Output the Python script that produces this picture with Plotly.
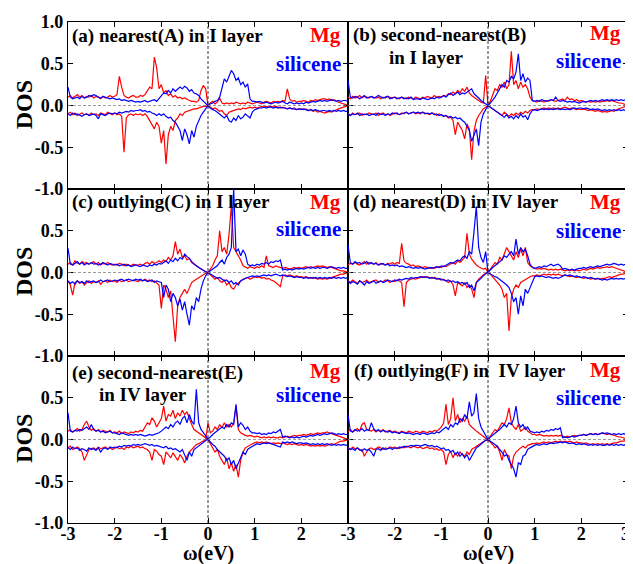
import numpy as np
import plotly.graph_objects as go
from plotly.subplots import make_subplots

# energy grid (eV), 0.05 eV spacing
OMEGA = np.round(np.linspace(-3.0, 3.0, 121), 2)

# ---------------- panel (a) ----------------
MG_UP_A = [0.10,0.12,0.09,0.11,0.13,0.10,0.12,0.09,0.11,0.10,
           0.12,0.09,0.11,0.10,0.08,0.11,0.09,0.10,0.12,0.10,
           0.11,0.13,0.35,0.22,0.12,0.10,0.09,0.11,0.12,0.10,
           0.10,0.12,0.11,0.13,0.18,0.22,0.20,0.58,0.45,0.20,
           0.25,0.15,0.18,0.12,0.14,0.10,0.12,0.09,0.10,0.08,
           0.09,0.07,0.06,0.05,0.05,0.04,0.06,0.18,0.24,0.20,
           0.00,-0.02,-0.04,-0.03,-0.05,-0.07,-0.06,-0.10,-0.12,-0.08,
           -0.07,-0.06,-0.05,-0.04,-0.05,-0.03,-0.04,-0.03,-0.02,-0.03,
           -0.02,-0.03,-0.02,-0.01,-0.02,-0.01,-0.02,-0.01,-0.02,-0.01,
           -0.02,-0.03,-0.02,-0.03,-0.04,-0.03,-0.04,-0.03,-0.05,-0.04,
           -0.04,-0.05,-0.04,-0.06,-0.05,-0.07,-0.06,-0.08,-0.07,-0.08,
           -0.09,-0.08,-0.07,-0.08,-0.06,-0.05,-0.04,-0.03,-0.02,-0.01,
           0.00]
MG_DN_A = [-0.10,-0.08,-0.11,-0.09,-0.12,-0.10,-0.09,-0.11,-0.10,-0.12,
           -0.09,-0.11,-0.10,-0.12,-0.09,-0.10,-0.11,-0.08,-0.10,-0.11,
           -0.09,-0.11,-0.10,-0.13,-0.56,-0.15,-0.11,-0.10,-0.12,-0.10,
           -0.11,-0.10,-0.12,-0.10,-0.13,-0.18,-0.22,-0.28,-0.20,-0.25,
           -0.45,-0.30,-0.70,-0.35,-0.25,-0.30,-0.18,-0.15,-0.10,-0.12,
           -0.08,-0.07,-0.06,-0.05,-0.04,-0.04,-0.03,-0.02,-0.01,-0.01,
           0.00,0.03,0.05,0.02,0.04,0.09,0.03,0.02,0.03,0.02,
           0.03,0.02,0.04,0.03,0.02,0.03,0.02,0.04,0.03,0.02,
           0.03,0.04,0.03,0.02,0.04,0.05,0.04,0.03,0.05,0.04,
           0.05,0.04,0.06,0.05,0.20,0.08,0.05,0.06,0.04,0.05,
           0.05,0.06,0.05,0.04,0.06,0.05,0.07,0.06,0.07,0.08,
           0.08,0.07,0.08,0.06,0.07,0.05,0.04,0.03,0.02,0.01,
           0.00]
SI_UP_A = [0.22,0.10,0.08,0.09,0.10,0.08,0.11,0.09,0.10,0.12,
           0.11,0.13,0.12,0.10,0.09,0.11,0.10,0.09,0.08,0.09,
           0.08,0.07,0.08,0.06,0.07,0.06,0.05,0.06,0.05,0.04,
           0.05,0.04,0.05,0.06,0.04,0.05,0.06,0.07,0.05,0.08,
           0.12,0.15,0.14,0.18,0.15,0.20,0.17,0.19,0.22,0.20,
           0.23,0.21,0.17,0.19,0.15,0.14,0.12,0.08,0.05,0.03,
           0.00,-0.03,-0.05,-0.06,-0.08,-0.10,-0.12,-0.15,-0.12,-0.18,
           -0.20,-0.15,-0.18,-0.12,-0.16,-0.14,-0.10,-0.12,-0.15,-0.08,
           -0.05,-0.04,-0.03,-0.03,-0.02,-0.03,-0.02,-0.02,-0.03,-0.02,
           -0.03,-0.02,-0.03,-0.03,-0.04,-0.03,-0.04,-0.04,-0.05,-0.04,
           -0.05,-0.04,-0.05,-0.06,-0.05,-0.06,-0.05,-0.06,-0.07,-0.06,
           -0.06,-0.07,-0.06,-0.07,-0.06,-0.07,-0.06,-0.07,-0.06,-0.07,
           -0.07]
SI_DN_A = [-0.10,-0.12,-0.09,-0.11,-0.10,-0.12,-0.13,-0.11,-0.10,-0.12,
           -0.11,-0.10,-0.12,-0.16,-0.10,-0.11,-0.12,-0.10,-0.09,-0.10,
           -0.09,-0.10,-0.08,-0.09,-0.08,-0.07,-0.08,-0.06,-0.07,-0.06,
           -0.06,-0.05,-0.07,-0.06,-0.08,-0.07,-0.09,-0.10,-0.12,-0.10,
           -0.12,-0.10,-0.13,-0.15,-0.14,-0.18,-0.20,-0.25,-0.30,-0.42,
           -0.28,-0.35,-0.46,-0.30,-0.38,-0.25,-0.18,-0.12,-0.08,-0.04,
           0.00,0.02,0.03,0.05,0.06,0.10,0.20,0.32,0.28,0.35,
           0.42,0.38,0.30,0.33,0.25,0.28,0.22,0.26,0.08,0.05,
           0.05,0.04,0.05,0.04,0.03,0.04,0.03,0.02,0.03,0.04,
           0.03,0.04,0.05,0.03,0.02,0.04,0.03,0.02,0.03,0.02,
           0.03,0.02,0.04,0.03,0.04,0.05,0.04,0.05,0.06,0.05,
           0.06,0.05,0.06,0.07,0.06,0.05,0.06,0.05,0.06,0.06,
           0.05]

# ---------------- panel (b) ----------------
MG_UP_B = [0.10,0.08,0.11,0.09,0.10,0.12,0.09,0.11,0.10,0.09,
           0.11,0.10,0.09,0.10,0.08,0.10,0.09,0.11,0.10,0.09,
           0.10,0.09,0.08,0.10,0.09,0.08,0.10,0.09,0.08,0.10,
           0.09,0.08,0.10,0.09,0.11,0.10,0.09,0.12,0.10,0.11,
           0.10,0.12,0.11,0.14,0.13,0.16,0.14,0.18,0.15,0.20,
           0.17,0.22,0.15,0.12,0.10,0.07,0.05,0.04,0.03,0.36,
           0.00,-0.02,-0.04,-0.05,-0.08,-0.10,-0.12,-0.08,-0.10,-0.13,
           -0.10,-0.12,-0.09,-0.11,-0.08,-0.10,-0.07,-0.09,-0.06,-0.05,
           -0.05,-0.04,-0.05,-0.04,-0.03,-0.04,-0.03,-0.04,-0.03,-0.04,
           -0.03,-0.04,-0.03,-0.02,-0.03,-0.04,-0.03,-0.04,-0.05,-0.04,
           -0.05,-0.04,-0.05,-0.06,-0.05,-0.06,-0.07,-0.06,-0.07,-0.08,
           -0.07,-0.08,-0.07,-0.06,-0.07,-0.05,-0.04,-0.03,-0.02,-0.01,
           0.00]
MG_DN_B = [-0.10,-0.12,-0.09,-0.11,-0.10,-0.09,-0.12,-0.10,-0.11,-0.09,
           -0.10,-0.11,-0.09,-0.12,-0.10,-0.09,-0.11,-0.10,-0.12,-0.10,
           -0.09,-0.10,-0.11,-0.09,-0.10,-0.08,-0.10,-0.09,-0.08,-0.10,
           -0.09,-0.10,-0.08,-0.09,-0.10,-0.11,-0.09,-0.10,-0.12,-0.10,
           -0.11,-0.13,-0.12,-0.15,-0.14,-0.18,-0.35,-0.20,-0.25,-0.30,
           -0.40,-0.22,-0.28,-0.65,-0.30,-0.18,-0.12,-0.08,-0.04,-0.02,
           0.00,0.05,0.12,0.20,0.18,0.25,0.22,0.28,0.20,0.25,
           0.65,0.25,0.30,0.20,0.28,0.22,0.25,0.20,0.10,0.06,
           0.05,0.04,0.06,0.05,0.04,0.06,0.05,0.07,0.06,0.05,
           0.06,0.07,0.08,0.06,0.10,0.07,0.08,0.06,0.07,0.05,
           0.06,0.05,0.04,0.05,0.04,0.05,0.04,0.05,0.04,0.05,
           0.05,0.06,0.05,0.06,0.05,0.04,0.03,0.03,0.02,0.01,
           0.00]
SI_UP_B = [0.30,0.10,0.09,0.11,0.10,0.08,0.10,0.12,0.09,0.10,
           0.11,0.09,0.10,0.12,0.10,0.09,0.10,0.11,0.08,0.09,
           0.10,0.08,0.09,0.10,0.08,0.09,0.08,0.10,0.07,0.08,
           0.08,0.07,0.09,0.08,0.07,0.08,0.09,0.08,0.10,0.09,
           0.10,0.12,0.10,0.13,0.15,0.12,0.14,0.16,0.13,0.15,
           0.14,0.16,0.18,0.20,0.14,0.12,0.09,0.06,0.04,0.02,
           0.00,-0.02,-0.04,-0.06,-0.08,-0.10,-0.12,-0.14,-0.11,-0.15,
           -0.13,-0.16,-0.12,-0.15,-0.10,-0.14,-0.12,-0.17,-0.10,-0.06,
           -0.05,-0.06,-0.05,-0.04,-0.05,-0.04,-0.05,-0.04,-0.05,-0.04,
           -0.04,-0.05,-0.04,-0.05,-0.04,-0.05,-0.04,-0.03,-0.04,-0.03,
           -0.03,-0.04,-0.03,-0.04,-0.05,-0.04,-0.05,-0.04,-0.05,-0.06,
           -0.05,-0.06,-0.05,-0.06,-0.05,-0.06,-0.05,-0.06,-0.05,-0.06,
           -0.05]
SI_DN_B = [-0.10,-0.12,-0.10,-0.11,-0.09,-0.12,-0.10,-0.11,-0.10,-0.12,
           -0.11,-0.10,-0.12,-0.09,-0.11,-0.10,-0.12,-0.10,-0.11,-0.09,
           -0.10,-0.09,-0.11,-0.10,-0.09,-0.08,-0.10,-0.09,-0.08,-0.09,
           -0.08,-0.09,-0.08,-0.10,-0.09,-0.10,-0.09,-0.11,-0.10,-0.12,
           -0.11,-0.13,-0.12,-0.14,-0.13,-0.15,-0.14,-0.16,-0.15,-0.18,
           -0.20,-0.25,-0.30,-0.43,-0.35,-0.28,-0.48,-0.20,-0.10,-0.04,
           0.00,0.03,0.06,0.10,0.15,0.20,0.25,0.22,0.30,0.28,
           0.35,0.32,0.40,0.62,0.30,0.38,0.28,0.33,0.30,0.06,
           0.05,0.06,0.05,0.07,0.06,0.05,0.06,0.07,0.06,0.10,
           0.06,0.05,0.06,0.05,0.04,0.05,0.04,0.05,0.04,0.03,
           0.04,0.05,0.04,0.05,0.06,0.05,0.06,0.05,0.06,0.07,
           0.06,0.07,0.06,0.07,0.06,0.07,0.06,0.07,0.06,0.07,
           0.06]

# ---------------- panel (c) ----------------
MG_UP_C = [0.10,0.12,0.09,0.14,0.11,0.10,0.13,0.11,0.12,0.10,
           0.11,0.13,0.10,0.12,0.09,0.11,0.10,0.12,0.10,0.09,
           0.10,0.09,0.11,0.10,0.08,0.10,0.09,0.08,0.10,0.09,
           0.09,0.10,0.08,0.11,0.12,0.10,0.13,0.11,0.12,0.14,
           0.12,0.15,0.13,0.18,0.15,0.20,0.37,0.22,0.28,0.18,
           0.20,0.15,0.17,0.12,0.10,0.08,0.06,0.04,0.02,0.01,
           0.00,-0.03,-0.05,-0.08,-0.06,-0.10,-0.12,-0.09,-0.15,-0.12,
           -0.18,-0.20,-0.15,-0.12,-0.10,-0.08,-0.07,-0.06,-0.08,-0.06,
           -0.05,-0.06,-0.05,-0.07,-0.06,-0.08,-0.07,-0.09,-0.10,-0.12,
           -0.14,-0.17,-0.04,-0.03,-0.04,-0.03,-0.04,-0.05,-0.04,-0.05,
           -0.05,-0.06,-0.05,-0.06,-0.07,-0.06,-0.07,-0.08,-0.07,-0.08,
           -0.07,-0.08,-0.07,-0.06,-0.05,-0.04,-0.03,-0.02,-0.02,-0.01,
           0.00]
MG_DN_C = [-0.10,-0.15,-0.27,-0.12,-0.10,-0.13,-0.11,-0.15,-0.12,-0.10,
           -0.13,-0.11,-0.12,-0.10,-0.14,-0.11,-0.10,-0.12,-0.09,-0.11,
           -0.10,-0.12,-0.09,-0.11,-0.10,-0.09,-0.11,-0.10,-0.09,-0.10,
           -0.11,-0.09,-0.10,-0.08,-0.10,-0.09,-0.11,-0.10,-0.12,-0.15,
           -0.43,-0.15,-0.20,-0.30,-0.22,-0.55,-0.83,-0.40,-0.30,-0.25,
           -0.20,-0.25,-0.18,-0.12,-0.10,-0.08,-0.06,-0.04,-0.02,-0.01,
           0.00,0.04,0.08,0.15,0.20,0.50,0.25,0.30,0.22,0.45,
           0.80,0.30,0.25,0.20,0.15,0.08,0.06,0.05,0.07,0.06,
           0.05,0.07,0.06,0.08,0.06,0.20,0.08,0.07,0.06,0.08,
           0.07,0.06,0.05,0.06,0.05,0.04,0.05,0.06,0.05,0.06,
           0.05,0.06,0.07,0.06,0.07,0.06,0.07,0.08,0.07,0.08,
           0.07,0.06,0.07,0.06,0.05,0.04,0.03,0.02,0.02,0.01,
           0.00]
SI_UP_C = [0.29,0.10,0.09,0.11,0.13,0.10,0.12,0.09,0.11,0.10,
           0.12,0.10,0.11,0.09,0.10,0.12,0.10,0.09,0.11,0.10,
           0.09,0.10,0.08,0.09,0.10,0.08,0.09,0.07,0.08,0.09,
           0.08,0.07,0.09,0.08,0.07,0.09,0.08,0.10,0.09,0.11,
           0.10,0.12,0.14,0.11,0.15,0.13,0.17,0.14,0.18,0.16,
           0.22,0.19,0.17,0.13,0.10,0.08,0.06,0.04,0.02,0.01,
           0.00,-0.02,-0.03,-0.05,-0.07,-0.06,-0.08,-0.10,-0.09,-0.12,
           -0.10,-0.14,-0.12,-0.15,-0.10,-0.08,-0.07,-0.06,-0.05,-0.04,
           -0.05,-0.04,-0.05,-0.04,-0.03,-0.04,-0.03,-0.04,-0.03,-0.02,
           -0.03,-0.04,-0.03,-0.04,-0.05,-0.04,-0.05,-0.06,-0.05,-0.06,
           -0.06,-0.07,-0.06,-0.07,-0.06,-0.07,-0.06,-0.07,-0.06,-0.07,
           -0.06,-0.07,-0.06,-0.07,-0.06,-0.07,-0.06,-0.07,-0.06,-0.07,
           -0.06]
SI_DN_C = [-0.10,-0.13,-0.11,-0.14,-0.10,-0.12,-0.11,-0.13,-0.10,-0.12,
           -0.11,-0.10,-0.12,-0.11,-0.09,-0.11,-0.10,-0.09,-0.11,-0.10,
           -0.09,-0.10,-0.09,-0.08,-0.10,-0.09,-0.08,-0.09,-0.10,-0.08,
           -0.09,-0.08,-0.10,-0.09,-0.11,-0.10,-0.09,-0.12,-0.10,-0.11,
           -0.12,-0.30,-0.15,-0.20,-0.35,-0.25,-0.30,-0.40,-0.32,-0.45,
           -0.35,-0.50,-0.63,-0.40,-0.45,-0.30,-0.35,-0.20,-0.10,-0.04,
           0.00,0.02,0.04,0.06,0.08,0.12,0.15,0.10,0.18,0.22,
           0.30,1.00,0.25,0.28,0.20,0.27,0.22,0.10,0.08,0.09,
           0.08,0.10,0.09,0.11,0.10,0.12,0.10,0.13,0.12,0.14,
           0.13,0.15,0.03,0.04,0.03,0.04,0.03,0.04,0.05,0.04,
           0.05,0.04,0.05,0.06,0.05,0.06,0.05,0.06,0.05,0.06,
           0.06,0.05,0.06,0.07,0.06,0.05,0.06,0.05,0.06,0.05,
           0.05]

# ---------------- panel (d) ----------------
MG_UP_D = [0.09,0.11,0.10,0.12,0.10,0.09,0.11,0.13,0.10,0.12,
           0.11,0.10,0.12,0.09,0.11,0.10,0.09,0.11,0.10,0.12,
           0.10,0.12,0.11,0.35,0.14,0.11,0.10,0.08,0.09,0.07,
           0.08,0.07,0.06,0.07,0.06,0.05,0.06,0.05,0.06,0.07,
           0.06,0.08,0.07,0.09,0.10,0.12,0.10,0.14,0.12,0.15,
           0.18,0.47,0.22,0.16,0.12,0.09,0.07,0.05,0.04,0.05,
           0.00,-0.02,-0.05,-0.08,-0.12,-0.15,-0.20,-0.30,-0.25,-0.70,
           -0.30,-0.20,-0.15,-0.18,-0.12,-0.10,-0.08,-0.06,-0.05,-0.04,
           -0.04,-0.03,-0.04,-0.03,-0.02,-0.03,-0.02,-0.03,-0.02,-0.03,
           -0.02,-0.03,-0.04,-0.03,-0.04,-0.05,-0.04,-0.05,-0.06,-0.05,
           -0.06,-0.07,-0.06,-0.07,-0.08,-0.07,-0.08,-0.07,-0.08,-0.07,
           -0.07,-0.06,-0.05,-0.06,-0.05,-0.04,-0.03,-0.02,-0.02,-0.01,
           0.00]
MG_DN_D = [-0.10,-0.12,-0.09,-0.11,-0.13,-0.10,-0.12,-0.11,-0.09,-0.12,
           -0.11,-0.10,-0.09,-0.12,-0.10,-0.11,-0.09,-0.10,-0.12,-0.10,
           -0.11,-0.09,-0.10,-0.12,-0.41,-0.12,-0.09,-0.08,-0.07,-0.08,
           -0.07,-0.06,-0.05,-0.06,-0.05,-0.06,-0.07,-0.06,-0.07,-0.08,
           -0.09,-0.08,-0.10,-0.12,-0.10,-0.15,-0.28,-0.12,-0.14,-0.16,
           -0.12,-0.18,-0.15,-0.20,-0.30,-0.12,-0.08,-0.05,-0.03,-0.01,
           0.00,0.04,0.08,0.12,0.10,0.18,0.15,0.22,0.30,0.25,
           0.20,0.15,0.25,0.18,0.28,0.20,0.30,0.12,0.08,0.06,
           0.05,0.04,0.05,0.04,0.05,0.04,0.03,0.04,0.03,0.04,
           0.03,0.04,0.03,0.02,0.03,0.02,0.03,0.02,0.03,0.02,
           0.03,0.04,0.03,0.04,0.05,0.04,0.05,0.06,0.05,0.06,
           0.06,0.07,0.06,0.07,0.06,0.05,0.04,0.03,0.02,0.01,
           0.00]
SI_UP_D = [0.33,0.12,0.10,0.13,0.11,0.12,0.10,0.11,0.13,0.10,
           0.12,0.10,0.11,0.09,0.10,0.11,0.09,0.10,0.08,0.09,
           0.08,0.09,0.07,0.08,0.07,0.06,0.07,0.06,0.05,0.06,
           0.05,0.06,0.05,0.04,0.05,0.06,0.05,0.06,0.07,0.06,
           0.08,0.07,0.09,0.10,0.12,0.11,0.13,0.15,0.14,0.18,
           0.20,0.17,0.25,0.22,0.49,0.79,0.30,0.18,0.12,0.25,
           0.00,-0.02,-0.03,-0.05,-0.06,-0.08,-0.10,-0.12,-0.15,-0.18,
           -0.25,-0.35,-0.30,-0.50,-0.28,-0.40,-0.20,-0.25,-0.18,-0.10,
           -0.05,-0.04,-0.05,-0.04,-0.05,-0.06,-0.05,-0.06,-0.07,-0.06,
           -0.07,-0.06,-0.04,-0.03,-0.04,-0.03,-0.04,-0.05,-0.04,-0.05,
           -0.06,-0.05,-0.06,-0.07,-0.06,-0.07,-0.08,-0.07,-0.08,-0.09,
           -0.08,-0.09,-0.08,-0.07,-0.08,-0.07,-0.08,-0.07,-0.08,-0.07,
           -0.07]
SI_DN_D = [-0.10,-0.13,-0.11,-0.12,-0.14,-0.10,-0.12,-0.15,-0.11,-0.13,
           -0.12,-0.10,-0.13,-0.11,-0.10,-0.12,-0.11,-0.09,-0.10,-0.11,
           -0.09,-0.10,-0.08,-0.09,-0.08,-0.07,-0.08,-0.06,-0.07,-0.06,
           -0.06,-0.05,-0.06,-0.05,-0.06,-0.07,-0.06,-0.07,-0.08,-0.07,
           -0.08,-0.09,-0.10,-0.09,-0.11,-0.10,-0.12,-0.11,-0.13,-0.12,
           -0.14,-0.12,-0.18,-0.15,-0.22,-0.12,-0.10,-0.07,-0.04,-0.02,
           0.00,0.03,0.06,0.08,0.10,0.12,0.15,0.20,0.18,0.22,
           0.25,0.20,0.40,0.22,0.30,0.25,0.28,0.20,0.10,0.06,
           0.05,0.06,0.07,0.06,0.08,0.07,0.09,0.10,0.08,0.09,
           0.10,0.08,0.04,0.05,0.04,0.03,0.04,0.03,0.04,0.05,
           0.05,0.06,0.05,0.06,0.07,0.06,0.07,0.08,0.07,0.08,
           0.09,0.10,0.09,0.10,0.11,0.10,0.09,0.10,0.09,0.10,
           0.09]

# ---------------- panel (e) ----------------
MG_UP_E = [0.10,0.12,0.09,0.11,0.13,0.10,0.12,0.18,0.22,0.15,
           0.11,0.13,0.10,0.12,0.09,0.11,0.10,0.09,0.11,0.08,
           0.09,0.08,0.10,0.07,0.09,0.08,0.07,0.09,0.08,0.10,
           0.09,0.11,0.10,0.15,0.20,0.18,0.26,0.22,0.15,0.20,
           0.25,0.40,0.22,0.30,0.28,0.35,0.25,0.32,0.28,0.35,
           0.30,0.33,0.25,0.18,0.12,0.10,0.08,0.06,0.04,0.02,
           0.00,-0.05,-0.10,-0.15,-0.12,-0.20,-0.25,-0.30,-0.22,-0.35,
           -0.28,-0.38,-0.30,-0.45,-0.25,-0.15,-0.10,-0.08,-0.06,-0.05,
           -0.04,-0.03,-0.04,-0.03,-0.04,-0.03,-0.04,-0.05,-0.04,-0.05,
           -0.04,-0.05,-0.04,-0.05,-0.06,-0.05,-0.06,-0.05,-0.06,-0.07,
           -0.06,-0.07,-0.06,-0.07,-0.08,-0.07,-0.08,-0.07,-0.08,-0.07,
           -0.08,-0.07,-0.06,-0.05,-0.06,-0.04,-0.03,-0.02,-0.02,-0.01,
           0.00]
MG_DN_E = [-0.10,-0.08,-0.12,-0.10,-0.09,-0.11,-0.15,-0.25,-0.18,-0.12,
           -0.11,-0.10,-0.12,-0.09,-0.11,-0.10,-0.09,-0.11,-0.10,-0.12,
           -0.10,-0.09,-0.11,-0.10,-0.12,-0.09,-0.10,-0.08,-0.10,-0.09,
           -0.08,-0.10,-0.09,-0.11,-0.12,-0.15,-0.25,-0.12,-0.14,-0.18,
           -0.20,-0.30,-0.15,-0.18,-0.22,-0.16,-0.20,-0.25,-0.18,-0.22,
           -0.28,-0.20,-0.15,-0.12,-0.08,-0.06,-0.05,-0.03,-0.02,0.00,
           0.20,0.08,0.10,0.15,0.12,0.18,0.14,0.20,0.15,0.18,
           0.15,0.20,0.40,0.12,0.08,0.06,0.05,0.04,0.05,0.04,
           0.03,0.04,0.03,0.02,0.03,0.02,0.03,0.02,0.03,0.02,
           0.02,0.03,0.02,0.03,0.04,0.03,0.04,0.05,0.04,0.05,
           0.05,0.06,0.05,0.06,0.07,0.06,0.07,0.08,0.07,0.08,
           0.08,0.09,0.08,0.07,0.06,0.05,0.04,0.03,0.02,0.01,
           0.00]
SI_UP_E = [0.32,0.10,0.09,0.11,0.10,0.12,0.11,0.13,0.15,0.12,
           0.18,0.12,0.10,0.11,0.09,0.10,0.08,0.09,0.10,0.08,
           0.08,0.07,0.06,0.08,0.07,0.06,0.05,0.06,0.05,0.06,
           0.05,0.06,0.05,0.04,0.05,0.06,0.05,0.06,0.07,0.08,
           0.10,0.12,0.15,0.13,0.18,0.15,0.20,0.22,0.18,0.25,
           0.28,0.20,0.30,0.22,0.18,0.60,0.20,0.12,0.08,0.05,
           0.00,-0.03,-0.06,-0.08,-0.12,-0.15,-0.18,-0.20,-0.25,-0.22,
           -0.30,-0.25,-0.35,-0.28,-0.20,-0.15,-0.18,-0.12,-0.10,-0.08,
           -0.06,-0.05,-0.06,-0.05,-0.04,-0.05,-0.04,-0.05,-0.06,-0.07,
           -0.08,-0.09,-0.03,-0.04,-0.03,-0.04,-0.03,-0.04,-0.05,-0.04,
           -0.04,-0.05,-0.04,-0.05,-0.06,-0.05,-0.06,-0.05,-0.06,-0.05,
           -0.06,-0.05,-0.06,-0.07,-0.06,-0.07,-0.06,-0.07,-0.06,-0.07,
           -0.06]
SI_DN_E = [-0.10,-0.12,-0.09,-0.11,-0.10,-0.13,-0.11,-0.12,-0.14,-0.10,
           -0.12,-0.11,-0.13,-0.10,-0.15,-0.11,-0.10,-0.12,-0.09,-0.10,
           -0.09,-0.10,-0.08,-0.09,-0.07,-0.08,-0.07,-0.08,-0.06,-0.07,
           -0.06,-0.07,-0.06,-0.05,-0.06,-0.07,-0.06,-0.08,-0.07,-0.08,
           -0.09,-0.10,-0.08,-0.11,-0.10,-0.12,-0.11,-0.13,-0.15,-0.12,
           -0.18,-0.25,-0.15,-0.20,-0.12,-0.10,-0.08,-0.06,-0.03,-0.01,
           0.00,0.03,0.06,0.08,0.10,0.12,0.15,0.13,0.18,0.15,
           0.20,0.18,0.42,0.15,0.20,0.17,0.12,0.15,0.10,0.08,
           0.08,0.07,0.08,0.06,0.07,0.06,0.08,0.07,0.09,0.08,
           0.10,0.12,0.03,0.04,0.03,0.02,0.03,0.02,0.03,0.02,
           0.03,0.04,0.03,0.04,0.05,0.04,0.05,0.06,0.05,0.06,
           0.07,0.06,0.07,0.08,0.07,0.06,0.07,0.06,0.07,0.06,
           0.06]

# ---------------- panel (f) ----------------
MG_UP_F = [0.10,0.12,0.09,0.11,0.13,0.10,0.18,0.20,0.12,0.11,
           0.10,0.12,0.09,0.11,0.10,0.12,0.09,0.10,0.11,0.09,
           0.10,0.09,0.08,0.10,0.09,0.08,0.10,0.09,0.08,0.10,
           0.09,0.08,0.10,0.09,0.08,0.10,0.09,0.11,0.10,0.12,
           0.15,0.20,0.42,0.18,0.25,0.50,0.22,0.30,0.20,0.25,
           0.22,0.28,0.18,0.15,0.12,0.10,0.08,0.06,0.04,0.02,
           0.00,-0.03,-0.06,-0.10,-0.08,-0.15,-0.25,-0.12,-0.18,-0.20,
           -0.35,-0.20,-0.15,-0.12,-0.10,-0.08,-0.10,-0.07,-0.06,-0.05,
           -0.05,-0.04,-0.05,-0.04,-0.03,-0.04,-0.03,-0.04,-0.03,-0.02,
           -0.03,-0.02,-0.03,-0.02,-0.03,-0.02,-0.03,-0.04,-0.03,-0.04,
           -0.04,-0.05,-0.04,-0.05,-0.06,-0.05,-0.06,-0.05,-0.06,-0.05,
           -0.06,-0.05,-0.06,-0.05,-0.04,-0.04,-0.03,-0.02,-0.02,-0.01,
           0.00]
MG_DN_F = [-0.10,-0.12,-0.09,-0.11,-0.10,-0.13,-0.12,-0.20,-0.15,-0.11,
           -0.10,-0.12,-0.11,-0.09,-0.10,-0.12,-0.10,-0.11,-0.09,-0.10,
           -0.09,-0.10,-0.11,-0.09,-0.10,-0.08,-0.09,-0.10,-0.08,-0.09,
           -0.10,-0.09,-0.11,-0.10,-0.09,-0.11,-0.10,-0.12,-0.11,-0.13,
           -0.12,-0.15,-0.30,-0.18,-0.14,-0.22,-0.16,-0.20,-0.15,-0.18,
           -0.20,-0.15,-0.18,-0.12,-0.10,-0.08,-0.06,-0.04,-0.02,-0.01,
           0.00,0.04,0.08,0.12,0.10,0.15,0.20,0.18,0.25,0.38,
           0.20,0.15,0.12,0.18,0.10,0.12,0.15,0.10,0.08,0.06,
           0.06,0.05,0.06,0.05,0.04,0.05,0.04,0.05,0.04,0.05,
           0.04,0.05,0.04,0.03,0.04,0.03,0.04,0.05,0.04,0.05,
           0.05,0.06,0.05,0.06,0.07,0.06,0.07,0.06,0.07,0.08,
           0.07,0.06,0.07,0.06,0.05,0.04,0.03,0.03,0.02,0.01,
           0.00]
SI_UP_F = [0.30,0.10,0.09,0.12,0.10,0.11,0.13,0.10,0.12,0.11,
           0.20,0.13,0.10,0.12,0.09,0.11,0.10,0.09,0.10,0.08,
           0.09,0.08,0.07,0.09,0.08,0.07,0.08,0.07,0.06,0.07,
           0.07,0.06,0.08,0.07,0.06,0.07,0.08,0.07,0.09,0.08,
           0.10,0.12,0.15,0.12,0.18,0.15,0.20,0.18,0.25,0.22,
           0.30,0.25,0.45,0.28,0.32,0.55,0.25,0.15,0.10,0.05,
           0.00,-0.02,-0.04,-0.06,-0.08,-0.12,-0.15,-0.20,-0.18,-0.25,
           -0.30,-0.35,-0.45,-0.28,-0.30,-0.20,-0.18,-0.12,-0.10,-0.08,
           -0.07,-0.06,-0.07,-0.06,-0.05,-0.06,-0.05,-0.04,-0.05,-0.04,
           -0.04,-0.03,-0.04,-0.03,-0.04,-0.05,-0.04,-0.05,-0.06,-0.05,
           -0.06,-0.05,-0.06,-0.07,-0.06,-0.07,-0.06,-0.07,-0.06,-0.07,
           -0.07,-0.06,-0.07,-0.06,-0.07,-0.06,-0.07,-0.06,-0.07,-0.06,
           -0.07]
SI_DN_F = [-0.10,-0.12,-0.11,-0.13,-0.10,-0.12,-0.14,-0.11,-0.13,-0.12,
           -0.15,-0.20,-0.12,-0.11,-0.13,-0.10,-0.12,-0.11,-0.10,-0.12,
           -0.10,-0.11,-0.09,-0.10,-0.08,-0.09,-0.08,-0.07,-0.08,-0.07,
           -0.07,-0.08,-0.07,-0.06,-0.07,-0.08,-0.07,-0.09,-0.08,-0.10,
           -0.11,-0.10,-0.13,-0.12,-0.15,-0.13,-0.18,-0.15,-0.20,-0.17,
           -0.22,-0.18,-0.25,-0.20,-0.15,-0.10,-0.08,-0.05,-0.03,-0.01,
           0.00,0.03,0.05,0.08,0.10,0.12,0.15,0.18,0.15,0.20,
           0.18,0.25,0.40,0.20,0.15,0.18,0.12,0.15,0.10,0.09,
           0.08,0.09,0.08,0.10,0.09,0.11,0.10,0.12,0.11,0.13,
           0.12,0.14,0.02,0.03,0.02,0.03,0.04,0.03,0.04,0.05,
           0.05,0.06,0.05,0.06,0.07,0.06,0.07,0.06,0.07,0.08,
           0.07,0.08,0.07,0.06,0.07,0.06,0.07,0.06,0.07,0.06,
           0.06]

PANEL_CURVES = [
    (MG_UP_A, MG_DN_A, SI_UP_A, SI_DN_A),
    (MG_UP_B, MG_DN_B, SI_UP_B, SI_DN_B),
    (MG_UP_C, MG_DN_C, SI_UP_C, SI_DN_C),
    (MG_UP_D, MG_DN_D, SI_UP_D, SI_DN_D),
    (MG_UP_E, MG_DN_E, SI_UP_E, SI_DN_E),
    (MG_UP_F, MG_DN_F, SI_UP_F, SI_DN_F),
]
for i, curves in enumerate(PANEL_CURVES):
    for j, c in enumerate(curves):
        if len(c) != len(OMEGA):
            raise SystemExit(f"panel {i} curve {j} has {len(c)} values")

Y_TICKS = [-1.0, -0.5, 0.0, 0.5, 1.0]
X_TICKS = [-3, -2, -1, 0, 1, 2, 3]

RED = "#ff0000"
BLUE = "#0000ff"
FONT = "Liberation Serif"

# page offset of the figure (browser body margin)
OFF = 8
W, H = 625, 556
ML, MR, MT, MB = 60, 4, 12, 41
PW, PH = W - ML - MR, H - MT - MB

def px(x):   # page pixel -> paper fraction
    return (x - OFF - ML) / PW

def py(y):
    return (H - MB - (y - OFF)) / PH

fig = make_subplots(rows=3, cols=2, horizontal_spacing=0, vertical_spacing=0)

for i, (mgu, mgd, siu, sid) in enumerate(PANEL_CURVES):
    r, c = i // 2 + 1, i % 2 + 1
    for ys, col in ((mgu, RED), (mgd, RED), (siu, BLUE), (sid, BLUE)):
        fig.add_trace(go.Scatter(x=OMEGA, y=ys, mode="lines",
                                 line=dict(color=col, width=1.2),
                                 showlegend=False, hoverinfo="skip"),
                      row=r, col=c)
    n = i + 1
    xr = "x" if n == 1 else f"x{n}"
    yr = "y" if n == 1 else f"y{n}"
    fig.add_shape(type="line", xref=xr, yref=f"{yr} domain", x0=0, x1=0, y0=0, y1=1,
                  line=dict(color="black", width=0.8, dash="3px,2px"))
    fig.add_shape(type="line", xref=f"{xr} domain", yref=yr, x0=0, x1=1, y0=0, y1=0,
                  line=dict(color="gray", width=0.8, dash="3px,2px"))

    if c == 1:
        yt = Y_TICKS if r == 1 else Y_TICKS[:-1]
        fig.update_yaxes(tickvals=yt, ticktext=[f"<b>{v:.1f}</b>" for v in yt],
                         showticklabels=True, row=r, col=c)
    else:
        fig.update_yaxes(tickvals=Y_TICKS, showticklabels=False, row=r, col=c)
    if r == 3:
        xt = X_TICKS[:-1]
        fig.update_xaxes(tickvals=X_TICKS, ticktext=[f"<b>{v}</b>" for v in xt] + [""],
                         showticklabels=True, ticklabelstandoff=-6, row=r, col=c)
    else:
        fig.update_xaxes(tickvals=X_TICKS, showticklabels=False, row=r, col=c)

fig.update_xaxes(range=[-3, 3], showline=True, linecolor="black", linewidth=1.2,
                 mirror="ticks", ticks="inside", ticklen=5, tickwidth=1, tickcolor="black",
                 showgrid=False, zeroline=False,
                 tickfont=dict(family=FONT, size=18, color="black"))
fig.update_yaxes(range=[-1, 1], showline=True, linecolor="black", linewidth=1.2,
                 mirror="ticks", ticks="inside", ticklen=5, tickwidth=1, tickcolor="black",
                 showgrid=False, zeroline=False,
                 tickfont=dict(family=FONT, size=18, color="black"))

ann = []
def label(text, x, y, size=19, color="black", anchor="left"):
    ann.append(dict(text=f"<b>{text}</b>", x=px(x), y=py(y), xref="paper", yref="paper",
                    xanchor=anchor, yanchor="middle", showarrow=False,
                    font=dict(family=FONT, size=size, color=color)))

# panel labels
label("(a) nearest(A) in I layer", 70, 34)
label("(b) second-nearest(B)", 352, 33)
label("in I layer", 388, 56)
label("(c) outlying(C) in I layer", 70, 201)
label("(d) nearest(D) in IV layer", 352, 201)
label("(e) second-nearest(E)", 70, 372)
label("in IV layer", 97, 394)
label("(f) outlying(F) in  IV layer", 353, 370)

# species labels
for xr_, ys_mg, ys_si in ((343, 33, 62), (624, 31, 59), (343, 201, 228),
                          (624, 201, 230), (343, 370, 394), (624, 369, 398)):
    label("Mg", xr_, ys_mg, size=21, color=RED, anchor="right")
    label("silicene", xr_, ys_si, size=21, color=BLUE, anchor="right")

# last x tick label at the right edge (kept inside the page)
label("3", 633, 534, size=18, anchor="right")

# axis titles
for yc in (103.5, 271, 438.5):
    ann.append(dict(text="<b>DOS</b>", x=px(24), y=py(yc), xref="paper", yref="paper",
                    xanchor="center", yanchor="middle", textangle=-90, showarrow=False,
                    font=dict(family=FONT, size=24, color="black")))
for xc in (208.5, 489):
    ann.append(dict(text="<b>ω(eV)</b>", x=px(xc), y=py(554), xref="paper", yref="paper",
                    xanchor="center", yanchor="middle", showarrow=False,
                    font=dict(family=FONT, size=20, color="black")))

fig.update_layout(width=W, height=H, margin=dict(l=ML, r=MR, t=MT, b=MB),
                  plot_bgcolor="white", paper_bgcolor="white", annotations=ann,
                  font=dict(family=FONT, color="black"), showlegend=False)

fig.write_html("out.html")
